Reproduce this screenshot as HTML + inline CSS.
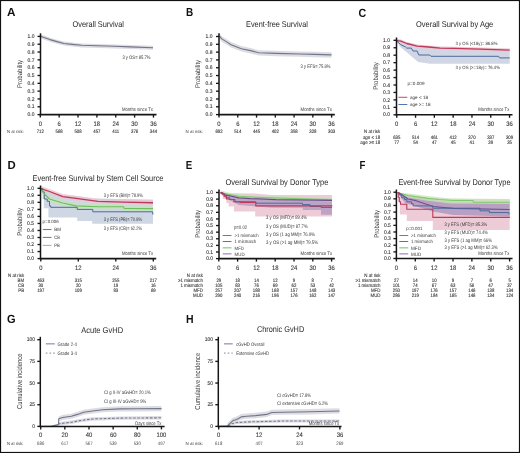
<!DOCTYPE html><html><head><meta charset="utf-8"><style>html,body{margin:0;padding:0;background:#fff;}svg{display:block;text-rendering:geometricPrecision;filter:blur(0.3px);}</style></head><body>
<svg width="520" height="453" viewBox="0 0 520 453" font-family='"Liberation Sans", sans-serif'>
<rect x="0" y="0" width="520" height="453" fill="#fff"/>
<text x="7.00" y="16.40" font-size="11.8" font-weight="bold" fill="#111" textLength="8.50" lengthAdjust="spacingAndGlyphs">A</text>
<text x="72.50" y="27.32" font-size="8.4" fill="#262626" textLength="51.50" lengthAdjust="spacingAndGlyphs">Overall Survival</text>
<path d="M40.60 34.30 L44.00 35.60 L50.00 37.70 L57.00 39.70 L64.00 41.60 L72.00 42.50 L81.80 43.40 L98.00 43.90 L115.00 44.40 L130.00 45.00 L153.00 45.80 L153.00 49.80 L130.00 49.00 L115.00 48.40 L98.00 47.90 L81.80 47.40 L72.00 46.50 L64.00 45.60 L57.00 43.70 L50.00 41.70 L44.00 39.60 L40.60 38.30Z" fill="#dcdce3" fill-opacity="1.0" stroke="none"/>
<path d="M40.60 36.20 L44.00 37.50 L50.00 39.60 L57.00 41.60 L64.00 43.50 L72.00 44.40 L81.80 45.30 L98.00 45.80 L115.00 46.30 L130.00 46.90 L153.00 47.70" fill="none" stroke="#727488" stroke-width="1.1" stroke-linejoin="round" />
<line x1="40.50" y1="33.30" x2="40.50" y2="115.30" stroke="#161616" stroke-width="1.5" />
<line x1="39.80" y1="114.60" x2="156.50" y2="114.60" stroke="#161616" stroke-width="1.55" />
<line x1="37.50" y1="36.40" x2="40.50" y2="36.40" stroke="#161616" stroke-width="1.35" />
<line x1="37.50" y1="44.22" x2="40.50" y2="44.22" stroke="#161616" stroke-width="1.35" />
<line x1="37.50" y1="52.04" x2="40.50" y2="52.04" stroke="#161616" stroke-width="1.35" />
<line x1="37.50" y1="59.86" x2="40.50" y2="59.86" stroke="#161616" stroke-width="1.35" />
<line x1="37.50" y1="67.68" x2="40.50" y2="67.68" stroke="#161616" stroke-width="1.35" />
<line x1="37.50" y1="75.50" x2="40.50" y2="75.50" stroke="#161616" stroke-width="1.35" />
<line x1="37.50" y1="83.32" x2="40.50" y2="83.32" stroke="#161616" stroke-width="1.35" />
<line x1="37.50" y1="91.14" x2="40.50" y2="91.14" stroke="#161616" stroke-width="1.35" />
<line x1="37.50" y1="98.96" x2="40.50" y2="98.96" stroke="#161616" stroke-width="1.35" />
<line x1="37.50" y1="106.78" x2="40.50" y2="106.78" stroke="#161616" stroke-width="1.35" />
<line x1="37.50" y1="114.60" x2="40.50" y2="114.60" stroke="#161616" stroke-width="1.35" />
<line x1="40.30" y1="114.60" x2="40.30" y2="117.60" stroke="#161616" stroke-width="1.35" />
<line x1="59.16" y1="114.60" x2="59.16" y2="117.60" stroke="#161616" stroke-width="1.35" />
<line x1="78.02" y1="114.60" x2="78.02" y2="117.60" stroke="#161616" stroke-width="1.35" />
<line x1="96.88" y1="114.60" x2="96.88" y2="117.60" stroke="#161616" stroke-width="1.35" />
<line x1="115.74" y1="114.60" x2="115.74" y2="117.60" stroke="#161616" stroke-width="1.35" />
<line x1="134.60" y1="114.60" x2="134.60" y2="117.60" stroke="#161616" stroke-width="1.35" />
<line x1="153.46" y1="114.60" x2="153.46" y2="117.60" stroke="#161616" stroke-width="1.35" />
<text x="34.50" y="38.04" font-size="5.4" text-anchor="end" fill="#383838" textLength="6.91" lengthAdjust="spacingAndGlyphs" stroke="#383838" stroke-width="0.12">1.0</text>
<text x="34.50" y="45.86" font-size="5.4" text-anchor="end" fill="#383838" textLength="6.91" lengthAdjust="spacingAndGlyphs" stroke="#383838" stroke-width="0.12">0.9</text>
<text x="34.50" y="53.68" font-size="5.4" text-anchor="end" fill="#383838" textLength="6.91" lengthAdjust="spacingAndGlyphs" stroke="#383838" stroke-width="0.12">0.8</text>
<text x="34.50" y="61.50" font-size="5.4" text-anchor="end" fill="#383838" textLength="6.91" lengthAdjust="spacingAndGlyphs" stroke="#383838" stroke-width="0.12">0.7</text>
<text x="34.50" y="69.32" font-size="5.4" text-anchor="end" fill="#383838" textLength="6.91" lengthAdjust="spacingAndGlyphs" stroke="#383838" stroke-width="0.12">0.6</text>
<text x="34.50" y="77.14" font-size="5.4" text-anchor="end" fill="#383838" textLength="6.91" lengthAdjust="spacingAndGlyphs" stroke="#383838" stroke-width="0.12">0.5</text>
<text x="34.50" y="84.96" font-size="5.4" text-anchor="end" fill="#383838" textLength="6.91" lengthAdjust="spacingAndGlyphs" stroke="#383838" stroke-width="0.12">0.4</text>
<text x="34.50" y="92.78" font-size="5.4" text-anchor="end" fill="#383838" textLength="6.91" lengthAdjust="spacingAndGlyphs" stroke="#383838" stroke-width="0.12">0.3</text>
<text x="34.50" y="100.60" font-size="5.4" text-anchor="end" fill="#383838" textLength="6.91" lengthAdjust="spacingAndGlyphs" stroke="#383838" stroke-width="0.12">0.2</text>
<text x="34.50" y="108.42" font-size="5.4" text-anchor="end" fill="#383838" textLength="6.91" lengthAdjust="spacingAndGlyphs" stroke="#383838" stroke-width="0.12">0.1</text>
<text x="34.50" y="116.24" font-size="5.4" text-anchor="end" fill="#383838" textLength="6.91" lengthAdjust="spacingAndGlyphs" stroke="#383838" stroke-width="0.12">0.0</text>
<text x="40.30" y="125.60" font-size="6.4" text-anchor="middle" fill="#383838" textLength="3.27" lengthAdjust="spacingAndGlyphs" stroke="#383838" stroke-width="0.1">0</text>
<text x="59.16" y="125.60" font-size="6.4" text-anchor="middle" fill="#383838" textLength="3.27" lengthAdjust="spacingAndGlyphs" stroke="#383838" stroke-width="0.1">6</text>
<text x="78.02" y="125.60" font-size="6.4" text-anchor="middle" fill="#383838" textLength="6.55" lengthAdjust="spacingAndGlyphs" stroke="#383838" stroke-width="0.1">12</text>
<text x="96.88" y="125.60" font-size="6.4" text-anchor="middle" fill="#383838" textLength="6.55" lengthAdjust="spacingAndGlyphs" stroke="#383838" stroke-width="0.1">18</text>
<text x="115.74" y="125.60" font-size="6.4" text-anchor="middle" fill="#383838" textLength="6.55" lengthAdjust="spacingAndGlyphs" stroke="#383838" stroke-width="0.1">24</text>
<text x="134.60" y="125.60" font-size="6.4" text-anchor="middle" fill="#383838" textLength="6.55" lengthAdjust="spacingAndGlyphs" stroke="#383838" stroke-width="0.1">30</text>
<text x="153.46" y="125.60" font-size="6.4" text-anchor="middle" fill="#383838" textLength="6.55" lengthAdjust="spacingAndGlyphs" stroke="#383838" stroke-width="0.1">36</text>
<text x="19.30" y="76.40" font-size="6.8" text-anchor="middle" fill="#383838" textLength="28.10" lengthAdjust="spacingAndGlyphs" transform="rotate(-90 19.30 73.95)">Probability</text>
<text x="122.40" y="58.80" font-size="5.0" fill="#383838" textLength="28.20" lengthAdjust="spacingAndGlyphs">3 y OS= 85.7%</text>
<text x="121.90" y="111.20" font-size="5.0" fill="#383838" textLength="31.10" lengthAdjust="spacingAndGlyphs">Months since Tx</text>
<text x="7.00" y="132.98" font-size="4.4" fill="#383838" textLength="16.80" lengthAdjust="spacingAndGlyphs">N at risk:</text>
<text x="40.30" y="133.16" font-size="4.9" text-anchor="middle" fill="#383838" textLength="7.19" lengthAdjust="spacingAndGlyphs" stroke="#383838" stroke-width="0.12">712</text>
<text x="59.16" y="133.16" font-size="4.9" text-anchor="middle" fill="#383838" textLength="7.19" lengthAdjust="spacingAndGlyphs" stroke="#383838" stroke-width="0.12">568</text>
<text x="78.02" y="133.16" font-size="4.9" text-anchor="middle" fill="#383838" textLength="7.19" lengthAdjust="spacingAndGlyphs" stroke="#383838" stroke-width="0.12">508</text>
<text x="96.88" y="133.16" font-size="4.9" text-anchor="middle" fill="#383838" textLength="7.19" lengthAdjust="spacingAndGlyphs" stroke="#383838" stroke-width="0.12">457</text>
<text x="115.74" y="133.16" font-size="4.9" text-anchor="middle" fill="#383838" textLength="6.87" lengthAdjust="spacingAndGlyphs" stroke="#383838" stroke-width="0.12">411</text>
<text x="134.60" y="133.16" font-size="4.9" text-anchor="middle" fill="#383838" textLength="7.19" lengthAdjust="spacingAndGlyphs" stroke="#383838" stroke-width="0.12">376</text>
<text x="153.46" y="133.16" font-size="4.9" text-anchor="middle" fill="#383838" textLength="7.19" lengthAdjust="spacingAndGlyphs" stroke="#383838" stroke-width="0.12">344</text>
<text x="185.90" y="16.40" font-size="11.8" font-weight="bold" fill="#111" textLength="7.20" lengthAdjust="spacingAndGlyphs">B</text>
<text x="246.00" y="26.92" font-size="8.4" fill="#262626" textLength="61.90" lengthAdjust="spacingAndGlyphs">Event-free Survival</text>
<path d="M219.50 33.60 L221.80 36.30 L227.50 39.80 L231.00 42.10 L241.40 46.10 L250.60 48.00 L258.70 50.20 L276.00 50.80 L300.00 51.40 L315.00 51.80 L331.50 52.30 L331.50 57.70 L315.00 57.20 L300.00 56.80 L276.00 56.20 L258.70 55.60 L250.60 53.40 L241.40 51.50 L231.00 47.50 L227.50 45.20 L221.80 41.70 L219.50 39.00Z" fill="#dcdce3" fill-opacity="1.0" stroke="none"/>
<path d="M219.50 36.20 L221.80 38.90 L227.50 42.40 L231.00 44.70 L241.40 48.70 L250.60 50.60 L258.70 52.80 L276.00 53.40 L300.00 54.00 L315.00 54.40 L331.50 54.90" fill="none" stroke="#727488" stroke-width="1.1" stroke-linejoin="round" />
<line x1="219.00" y1="33.30" x2="219.00" y2="115.30" stroke="#161616" stroke-width="1.5" />
<line x1="218.30" y1="114.60" x2="334.80" y2="114.60" stroke="#161616" stroke-width="1.55" />
<line x1="216.00" y1="36.50" x2="219.00" y2="36.50" stroke="#161616" stroke-width="1.35" />
<line x1="216.00" y1="44.31" x2="219.00" y2="44.31" stroke="#161616" stroke-width="1.35" />
<line x1="216.00" y1="52.12" x2="219.00" y2="52.12" stroke="#161616" stroke-width="1.35" />
<line x1="216.00" y1="59.93" x2="219.00" y2="59.93" stroke="#161616" stroke-width="1.35" />
<line x1="216.00" y1="67.74" x2="219.00" y2="67.74" stroke="#161616" stroke-width="1.35" />
<line x1="216.00" y1="75.55" x2="219.00" y2="75.55" stroke="#161616" stroke-width="1.35" />
<line x1="216.00" y1="83.36" x2="219.00" y2="83.36" stroke="#161616" stroke-width="1.35" />
<line x1="216.00" y1="91.17" x2="219.00" y2="91.17" stroke="#161616" stroke-width="1.35" />
<line x1="216.00" y1="98.98" x2="219.00" y2="98.98" stroke="#161616" stroke-width="1.35" />
<line x1="216.00" y1="106.79" x2="219.00" y2="106.79" stroke="#161616" stroke-width="1.35" />
<line x1="216.00" y1="114.60" x2="219.00" y2="114.60" stroke="#161616" stroke-width="1.35" />
<line x1="219.00" y1="114.60" x2="219.00" y2="117.60" stroke="#161616" stroke-width="1.35" />
<line x1="237.77" y1="114.60" x2="237.77" y2="117.60" stroke="#161616" stroke-width="1.35" />
<line x1="256.54" y1="114.60" x2="256.54" y2="117.60" stroke="#161616" stroke-width="1.35" />
<line x1="275.31" y1="114.60" x2="275.31" y2="117.60" stroke="#161616" stroke-width="1.35" />
<line x1="294.08" y1="114.60" x2="294.08" y2="117.60" stroke="#161616" stroke-width="1.35" />
<line x1="312.85" y1="114.60" x2="312.85" y2="117.60" stroke="#161616" stroke-width="1.35" />
<line x1="331.62" y1="114.60" x2="331.62" y2="117.60" stroke="#161616" stroke-width="1.35" />
<text x="212.50" y="38.14" font-size="5.4" text-anchor="end" fill="#383838" textLength="6.91" lengthAdjust="spacingAndGlyphs" stroke="#383838" stroke-width="0.12">1.0</text>
<text x="212.50" y="45.95" font-size="5.4" text-anchor="end" fill="#383838" textLength="6.91" lengthAdjust="spacingAndGlyphs" stroke="#383838" stroke-width="0.12">0.9</text>
<text x="212.50" y="53.76" font-size="5.4" text-anchor="end" fill="#383838" textLength="6.91" lengthAdjust="spacingAndGlyphs" stroke="#383838" stroke-width="0.12">0.8</text>
<text x="212.50" y="61.57" font-size="5.4" text-anchor="end" fill="#383838" textLength="6.91" lengthAdjust="spacingAndGlyphs" stroke="#383838" stroke-width="0.12">0.7</text>
<text x="212.50" y="69.38" font-size="5.4" text-anchor="end" fill="#383838" textLength="6.91" lengthAdjust="spacingAndGlyphs" stroke="#383838" stroke-width="0.12">0.6</text>
<text x="212.50" y="77.19" font-size="5.4" text-anchor="end" fill="#383838" textLength="6.91" lengthAdjust="spacingAndGlyphs" stroke="#383838" stroke-width="0.12">0.5</text>
<text x="212.50" y="85.00" font-size="5.4" text-anchor="end" fill="#383838" textLength="6.91" lengthAdjust="spacingAndGlyphs" stroke="#383838" stroke-width="0.12">0.4</text>
<text x="212.50" y="92.81" font-size="5.4" text-anchor="end" fill="#383838" textLength="6.91" lengthAdjust="spacingAndGlyphs" stroke="#383838" stroke-width="0.12">0.3</text>
<text x="212.50" y="100.62" font-size="5.4" text-anchor="end" fill="#383838" textLength="6.91" lengthAdjust="spacingAndGlyphs" stroke="#383838" stroke-width="0.12">0.2</text>
<text x="212.50" y="108.43" font-size="5.4" text-anchor="end" fill="#383838" textLength="6.91" lengthAdjust="spacingAndGlyphs" stroke="#383838" stroke-width="0.12">0.1</text>
<text x="212.50" y="116.24" font-size="5.4" text-anchor="end" fill="#383838" textLength="6.91" lengthAdjust="spacingAndGlyphs" stroke="#383838" stroke-width="0.12">0.0</text>
<text x="219.00" y="125.60" font-size="6.4" text-anchor="middle" fill="#383838" textLength="3.27" lengthAdjust="spacingAndGlyphs" stroke="#383838" stroke-width="0.1">0</text>
<text x="237.77" y="125.60" font-size="6.4" text-anchor="middle" fill="#383838" textLength="3.27" lengthAdjust="spacingAndGlyphs" stroke="#383838" stroke-width="0.1">6</text>
<text x="256.54" y="125.60" font-size="6.4" text-anchor="middle" fill="#383838" textLength="6.55" lengthAdjust="spacingAndGlyphs" stroke="#383838" stroke-width="0.1">12</text>
<text x="275.31" y="125.60" font-size="6.4" text-anchor="middle" fill="#383838" textLength="6.55" lengthAdjust="spacingAndGlyphs" stroke="#383838" stroke-width="0.1">18</text>
<text x="294.08" y="125.60" font-size="6.4" text-anchor="middle" fill="#383838" textLength="6.55" lengthAdjust="spacingAndGlyphs" stroke="#383838" stroke-width="0.1">24</text>
<text x="312.85" y="125.60" font-size="6.4" text-anchor="middle" fill="#383838" textLength="6.55" lengthAdjust="spacingAndGlyphs" stroke="#383838" stroke-width="0.1">30</text>
<text x="331.62" y="125.60" font-size="6.4" text-anchor="middle" fill="#383838" textLength="6.55" lengthAdjust="spacingAndGlyphs" stroke="#383838" stroke-width="0.1">36</text>
<text x="197.70" y="76.45" font-size="6.8" text-anchor="middle" fill="#383838" textLength="28.20" lengthAdjust="spacingAndGlyphs" transform="rotate(-90 197.70 74.00)">Probability</text>
<text x="300.60" y="68.00" font-size="5.0" fill="#383838" textLength="29.90" lengthAdjust="spacingAndGlyphs">3 y EFS= 75.8%</text>
<text x="300.60" y="111.20" font-size="5.0" fill="#383838" textLength="31.20" lengthAdjust="spacingAndGlyphs">Months since Tx</text>
<text x="185.60" y="132.78" font-size="4.4" fill="#383838" textLength="17.20" lengthAdjust="spacingAndGlyphs">N at risk:</text>
<text x="219.00" y="132.96" font-size="4.9" text-anchor="middle" fill="#383838" textLength="7.19" lengthAdjust="spacingAndGlyphs" stroke="#383838" stroke-width="0.12">692</text>
<text x="237.77" y="132.96" font-size="4.9" text-anchor="middle" fill="#383838" textLength="7.19" lengthAdjust="spacingAndGlyphs" stroke="#383838" stroke-width="0.12">514</text>
<text x="256.54" y="132.96" font-size="4.9" text-anchor="middle" fill="#383838" textLength="7.19" lengthAdjust="spacingAndGlyphs" stroke="#383838" stroke-width="0.12">445</text>
<text x="275.31" y="132.96" font-size="4.9" text-anchor="middle" fill="#383838" textLength="7.19" lengthAdjust="spacingAndGlyphs" stroke="#383838" stroke-width="0.12">402</text>
<text x="294.08" y="132.96" font-size="4.9" text-anchor="middle" fill="#383838" textLength="7.19" lengthAdjust="spacingAndGlyphs" stroke="#383838" stroke-width="0.12">358</text>
<text x="312.85" y="132.96" font-size="4.9" text-anchor="middle" fill="#383838" textLength="7.19" lengthAdjust="spacingAndGlyphs" stroke="#383838" stroke-width="0.12">328</text>
<text x="331.62" y="132.96" font-size="4.9" text-anchor="middle" fill="#383838" textLength="7.19" lengthAdjust="spacingAndGlyphs" stroke="#383838" stroke-width="0.12">303</text>
<text x="358.50" y="16.55" font-size="11.8" font-weight="bold" fill="#111" textLength="7.70" lengthAdjust="spacingAndGlyphs">C</text>
<text x="416.00" y="27.12" font-size="8.4" fill="#262626" textLength="77.20" lengthAdjust="spacingAndGlyphs">Overall Survival by Age</text>
<path d="M396.90 40.60 L406.70 44.50 L417.10 47.20 L428.60 48.00 L454.00 49.40 L509.70 50.80 L509.70 63.70 L429.80 63.70 L418.20 62.00 L412.50 57.30 L406.70 52.20 L400.90 47.50 L397.50 42.90 L396.90 40.60Z" fill="#d0d6e3" fill-opacity="1.0" stroke="none"/>
<path d="M396.90 39.00 L400.90 39.60 L406.70 41.90 L417.10 44.60 L428.60 45.40 L440.20 46.50 L454.00 46.80 L480.00 47.60 L509.70 48.60 L509.70 52.00 L480.00 51.00 L454.00 50.20 L440.20 49.90 L428.60 48.80 L417.10 48.00 L406.70 45.30 L400.90 43.00 L396.90 42.40Z" fill="#e9c9d3" fill-opacity="1.0" stroke="none"/>
<path d="M396.90 40.60 L398.60 42.90 L400.90 44.70 L405.50 47.00 L406.70 48.10 L411.30 48.10 L413.00 51.00 L417.10 51.00 L418.80 55.00 L429.80 55.00 L431.00 56.30 L498.60 56.30 L499.50 57.90 L509.70 57.90" fill="none" stroke="#4a6a9a" stroke-width="1.0" stroke-linejoin="round" />
<path d="M396.90 40.60 L400.90 41.20 L406.70 43.50 L417.10 46.20 L428.60 47.00 L440.20 48.10 L454.00 48.40 L480.00 49.20 L509.70 50.20" fill="none" stroke="#c0385a" stroke-width="1.3" stroke-linejoin="round" />
<line x1="396.50" y1="37.50" x2="396.50" y2="115.50" stroke="#161616" stroke-width="1.5" />
<line x1="395.80" y1="114.80" x2="512.50" y2="114.80" stroke="#161616" stroke-width="1.55" />
<line x1="393.50" y1="40.30" x2="396.50" y2="40.30" stroke="#161616" stroke-width="1.35" />
<line x1="393.50" y1="47.75" x2="396.50" y2="47.75" stroke="#161616" stroke-width="1.35" />
<line x1="393.50" y1="55.20" x2="396.50" y2="55.20" stroke="#161616" stroke-width="1.35" />
<line x1="393.50" y1="62.65" x2="396.50" y2="62.65" stroke="#161616" stroke-width="1.35" />
<line x1="393.50" y1="70.10" x2="396.50" y2="70.10" stroke="#161616" stroke-width="1.35" />
<line x1="393.50" y1="77.55" x2="396.50" y2="77.55" stroke="#161616" stroke-width="1.35" />
<line x1="393.50" y1="85.00" x2="396.50" y2="85.00" stroke="#161616" stroke-width="1.35" />
<line x1="393.50" y1="92.45" x2="396.50" y2="92.45" stroke="#161616" stroke-width="1.35" />
<line x1="393.50" y1="99.90" x2="396.50" y2="99.90" stroke="#161616" stroke-width="1.35" />
<line x1="393.50" y1="107.35" x2="396.50" y2="107.35" stroke="#161616" stroke-width="1.35" />
<line x1="393.50" y1="114.80" x2="396.50" y2="114.80" stroke="#161616" stroke-width="1.35" />
<line x1="396.75" y1="114.80" x2="396.75" y2="117.80" stroke="#161616" stroke-width="1.35" />
<line x1="415.55" y1="114.80" x2="415.55" y2="117.80" stroke="#161616" stroke-width="1.35" />
<line x1="434.35" y1="114.80" x2="434.35" y2="117.80" stroke="#161616" stroke-width="1.35" />
<line x1="453.15" y1="114.80" x2="453.15" y2="117.80" stroke="#161616" stroke-width="1.35" />
<line x1="471.95" y1="114.80" x2="471.95" y2="117.80" stroke="#161616" stroke-width="1.35" />
<line x1="490.75" y1="114.80" x2="490.75" y2="117.80" stroke="#161616" stroke-width="1.35" />
<line x1="509.55" y1="114.80" x2="509.55" y2="117.80" stroke="#161616" stroke-width="1.35" />
<text x="390.00" y="41.94" font-size="5.4" text-anchor="end" fill="#383838" textLength="6.91" lengthAdjust="spacingAndGlyphs" stroke="#383838" stroke-width="0.12">1.0</text>
<text x="390.00" y="49.39" font-size="5.4" text-anchor="end" fill="#383838" textLength="6.91" lengthAdjust="spacingAndGlyphs" stroke="#383838" stroke-width="0.12">0.9</text>
<text x="390.00" y="56.84" font-size="5.4" text-anchor="end" fill="#383838" textLength="6.91" lengthAdjust="spacingAndGlyphs" stroke="#383838" stroke-width="0.12">0.8</text>
<text x="390.00" y="64.29" font-size="5.4" text-anchor="end" fill="#383838" textLength="6.91" lengthAdjust="spacingAndGlyphs" stroke="#383838" stroke-width="0.12">0.7</text>
<text x="390.00" y="71.74" font-size="5.4" text-anchor="end" fill="#383838" textLength="6.91" lengthAdjust="spacingAndGlyphs" stroke="#383838" stroke-width="0.12">0.6</text>
<text x="390.00" y="79.19" font-size="5.4" text-anchor="end" fill="#383838" textLength="6.91" lengthAdjust="spacingAndGlyphs" stroke="#383838" stroke-width="0.12">0.5</text>
<text x="390.00" y="86.64" font-size="5.4" text-anchor="end" fill="#383838" textLength="6.91" lengthAdjust="spacingAndGlyphs" stroke="#383838" stroke-width="0.12">0.4</text>
<text x="390.00" y="94.09" font-size="5.4" text-anchor="end" fill="#383838" textLength="6.91" lengthAdjust="spacingAndGlyphs" stroke="#383838" stroke-width="0.12">0.3</text>
<text x="390.00" y="101.54" font-size="5.4" text-anchor="end" fill="#383838" textLength="6.91" lengthAdjust="spacingAndGlyphs" stroke="#383838" stroke-width="0.12">0.2</text>
<text x="390.00" y="108.99" font-size="5.4" text-anchor="end" fill="#383838" textLength="6.91" lengthAdjust="spacingAndGlyphs" stroke="#383838" stroke-width="0.12">0.1</text>
<text x="390.00" y="116.44" font-size="5.4" text-anchor="end" fill="#383838" textLength="6.91" lengthAdjust="spacingAndGlyphs" stroke="#383838" stroke-width="0.12">0.0</text>
<text x="396.75" y="125.60" font-size="6.4" text-anchor="middle" fill="#383838" textLength="3.27" lengthAdjust="spacingAndGlyphs" stroke="#383838" stroke-width="0.1">0</text>
<text x="415.55" y="125.60" font-size="6.4" text-anchor="middle" fill="#383838" textLength="3.27" lengthAdjust="spacingAndGlyphs" stroke="#383838" stroke-width="0.1">6</text>
<text x="434.35" y="125.60" font-size="6.4" text-anchor="middle" fill="#383838" textLength="6.55" lengthAdjust="spacingAndGlyphs" stroke="#383838" stroke-width="0.1">12</text>
<text x="453.15" y="125.60" font-size="6.4" text-anchor="middle" fill="#383838" textLength="6.55" lengthAdjust="spacingAndGlyphs" stroke="#383838" stroke-width="0.1">18</text>
<text x="471.95" y="125.60" font-size="6.4" text-anchor="middle" fill="#383838" textLength="6.55" lengthAdjust="spacingAndGlyphs" stroke="#383838" stroke-width="0.1">24</text>
<text x="490.75" y="125.60" font-size="6.4" text-anchor="middle" fill="#383838" textLength="6.55" lengthAdjust="spacingAndGlyphs" stroke="#383838" stroke-width="0.1">30</text>
<text x="509.55" y="125.60" font-size="6.4" text-anchor="middle" fill="#383838" textLength="6.55" lengthAdjust="spacingAndGlyphs" stroke="#383838" stroke-width="0.1">36</text>
<text x="375.70" y="78.45" font-size="6.8" text-anchor="middle" fill="#383838" textLength="27.60" lengthAdjust="spacingAndGlyphs" transform="rotate(-90 375.70 76.00)">Probability</text>
<text x="455.50" y="44.66" font-size="4.6" fill="#383838" textLength="42.00" lengthAdjust="spacingAndGlyphs">3 y OS (&lt;18y)= 86.8%</text>
<text x="455.50" y="69.16" font-size="4.6" fill="#383838" textLength="44.50" lengthAdjust="spacingAndGlyphs">3 y OS (&gt;=18y)= 76.4%</text>
<text x="407.50" y="85.41" font-size="4.6" fill="#383838" textLength="17.00" lengthAdjust="spacingAndGlyphs">p=0.009</text>
<line x1="398.40" y1="97.30" x2="407.30" y2="97.30" stroke="#c85474" stroke-width="1.1" />
<text x="410.00" y="98.66" font-size="4.6" fill="#383838" textLength="18.00" lengthAdjust="spacingAndGlyphs">age &lt; 18</text>
<line x1="398.40" y1="104.50" x2="407.30" y2="104.50" stroke="#5474b0" stroke-width="1.0" />
<text x="410.00" y="105.96" font-size="4.6" fill="#383838" textLength="20.50" lengthAdjust="spacingAndGlyphs">age &gt;= 18</text>
<text x="478.20" y="111.20" font-size="5.0" fill="#383838" textLength="31.20" lengthAdjust="spacingAndGlyphs">Months since Tx</text>
<text x="380.20" y="133.26" font-size="4.9" text-anchor="end" fill="#383838" textLength="16.17" lengthAdjust="spacingAndGlyphs" stroke="#383838" stroke-width="0.1">N at risk</text>
<text x="380.20" y="138.76" font-size="4.9" text-anchor="end" fill="#383838" textLength="17.29" lengthAdjust="spacingAndGlyphs" stroke="#383838" stroke-width="0.1">age &lt; 18</text>
<text x="380.20" y="143.66" font-size="4.9" text-anchor="end" fill="#383838" textLength="19.86" lengthAdjust="spacingAndGlyphs" stroke="#383838" stroke-width="0.1">age &gt;= 18</text>
<text x="396.75" y="138.76" font-size="4.9" text-anchor="middle" fill="#383838" textLength="7.19" lengthAdjust="spacingAndGlyphs" stroke="#383838" stroke-width="0.12">635</text>
<text x="415.55" y="138.76" font-size="4.9" text-anchor="middle" fill="#383838" textLength="7.19" lengthAdjust="spacingAndGlyphs" stroke="#383838" stroke-width="0.12">514</text>
<text x="434.35" y="138.76" font-size="4.9" text-anchor="middle" fill="#383838" textLength="7.19" lengthAdjust="spacingAndGlyphs" stroke="#383838" stroke-width="0.12">461</text>
<text x="453.15" y="138.76" font-size="4.9" text-anchor="middle" fill="#383838" textLength="7.19" lengthAdjust="spacingAndGlyphs" stroke="#383838" stroke-width="0.12">412</text>
<text x="471.95" y="138.76" font-size="4.9" text-anchor="middle" fill="#383838" textLength="7.19" lengthAdjust="spacingAndGlyphs" stroke="#383838" stroke-width="0.12">370</text>
<text x="490.75" y="138.76" font-size="4.9" text-anchor="middle" fill="#383838" textLength="7.19" lengthAdjust="spacingAndGlyphs" stroke="#383838" stroke-width="0.12">337</text>
<text x="509.55" y="138.76" font-size="4.9" text-anchor="middle" fill="#383838" textLength="7.19" lengthAdjust="spacingAndGlyphs" stroke="#383838" stroke-width="0.12">309</text>
<text x="396.75" y="143.66" font-size="4.9" text-anchor="middle" fill="#383838" textLength="4.80" lengthAdjust="spacingAndGlyphs" stroke="#383838" stroke-width="0.12">77</text>
<text x="415.55" y="143.66" font-size="4.9" text-anchor="middle" fill="#383838" textLength="4.80" lengthAdjust="spacingAndGlyphs" stroke="#383838" stroke-width="0.12">54</text>
<text x="434.35" y="143.66" font-size="4.9" text-anchor="middle" fill="#383838" textLength="4.80" lengthAdjust="spacingAndGlyphs" stroke="#383838" stroke-width="0.12">47</text>
<text x="453.15" y="143.66" font-size="4.9" text-anchor="middle" fill="#383838" textLength="4.80" lengthAdjust="spacingAndGlyphs" stroke="#383838" stroke-width="0.12">45</text>
<text x="471.95" y="143.66" font-size="4.9" text-anchor="middle" fill="#383838" textLength="4.80" lengthAdjust="spacingAndGlyphs" stroke="#383838" stroke-width="0.12">41</text>
<text x="490.75" y="143.66" font-size="4.9" text-anchor="middle" fill="#383838" textLength="4.80" lengthAdjust="spacingAndGlyphs" stroke="#383838" stroke-width="0.12">39</text>
<text x="509.55" y="143.66" font-size="4.9" text-anchor="middle" fill="#383838" textLength="4.80" lengthAdjust="spacingAndGlyphs" stroke="#383838" stroke-width="0.12">35</text>
<text x="7.60" y="168.80" font-size="11.8" font-weight="bold" fill="#111" textLength="8.20" lengthAdjust="spacingAndGlyphs">D</text>
<text x="32.60" y="180.72" font-size="8.4" fill="#262626" textLength="130.80" lengthAdjust="spacingAndGlyphs">Event-free Survival by Stem Cell Source</text>
<path d="M40.90 188.60 L62.80 195.50 L76.00 196.00 L92.20 198.40 L153.00 199.60 L153.00 224.00 L153.00 223.80 L92.20 223.80 L92.20 221.00 L77.20 221.00 L77.20 217.50 L48.40 217.50 L48.40 208.20 L43.80 208.20 L43.80 199.00 L42.60 199.00 L42.60 188.60 L40.90 188.60Z" fill="#d0d7e4" fill-opacity="1.0" stroke="none"/>
<path d="M40.90 185.40 L44.90 191.20 L49.50 195.80 L62.80 199.80 L76.00 202.70 L98.00 203.50 L123.50 203.60 L124.20 205.20 L153.00 205.40 L153.00 212.00 L124.20 211.80 L123.50 210.20 L98.00 210.10 L76.00 209.30 L62.80 206.40 L49.50 202.40 L44.90 197.80 L40.90 192.00Z" fill="#c6e2bd" fill-opacity="0.75" stroke="none"/>
<path d="M40.90 186.00 L49.50 188.90 L62.80 194.10 L76.00 195.80 L98.00 198.70 L123.00 199.50 L153.00 200.15 L153.00 204.75 L123.00 204.10 L98.00 203.30 L76.00 200.40 L62.80 198.70 L49.50 193.50 L40.90 190.60Z" fill="#e9c4cf" fill-opacity="0.8" stroke="none"/>
<path d="M40.90 188.60 L42.60 188.60 L42.60 192.00 L44.30 192.00 L44.30 199.00 L47.20 199.00 L47.20 201.30 L49.50 201.30 L49.50 205.90 L50.70 205.90 L50.70 207.30 L77.20 207.30 L77.20 209.40 L92.80 209.40 L92.80 211.80 L152.80 211.80 L152.80 214.60" fill="none" stroke="#4a6a9a" stroke-width="1.0" stroke-linejoin="round" />
<path d="M40.90 188.60 L44.90 194.40 L49.50 199.00 L62.80 203.00 L76.00 205.90 L98.00 206.70 L123.50 206.80 L124.20 208.40 L153.00 208.60" fill="none" stroke="#6cbf5a" stroke-width="1.1" stroke-linejoin="round" />
<path d="M40.90 188.60 L49.50 191.50 L62.80 196.70 L76.00 198.40 L98.00 201.30 L123.00 202.10 L153.00 202.75" fill="none" stroke="#c0385a" stroke-width="1.3" stroke-linejoin="round" />
<line x1="40.50" y1="185.50" x2="40.50" y2="259.30" stroke="#161616" stroke-width="1.5" />
<line x1="39.80" y1="258.60" x2="156.20" y2="258.60" stroke="#161616" stroke-width="1.55" />
<line x1="37.50" y1="188.30" x2="40.50" y2="188.30" stroke="#161616" stroke-width="1.35" />
<line x1="37.50" y1="195.33" x2="40.50" y2="195.33" stroke="#161616" stroke-width="1.35" />
<line x1="37.50" y1="202.36" x2="40.50" y2="202.36" stroke="#161616" stroke-width="1.35" />
<line x1="37.50" y1="209.39" x2="40.50" y2="209.39" stroke="#161616" stroke-width="1.35" />
<line x1="37.50" y1="216.42" x2="40.50" y2="216.42" stroke="#161616" stroke-width="1.35" />
<line x1="37.50" y1="223.45" x2="40.50" y2="223.45" stroke="#161616" stroke-width="1.35" />
<line x1="37.50" y1="230.48" x2="40.50" y2="230.48" stroke="#161616" stroke-width="1.35" />
<line x1="37.50" y1="237.51" x2="40.50" y2="237.51" stroke="#161616" stroke-width="1.35" />
<line x1="37.50" y1="244.54" x2="40.50" y2="244.54" stroke="#161616" stroke-width="1.35" />
<line x1="37.50" y1="251.57" x2="40.50" y2="251.57" stroke="#161616" stroke-width="1.35" />
<line x1="37.50" y1="258.60" x2="40.50" y2="258.60" stroke="#161616" stroke-width="1.35" />
<line x1="40.80" y1="258.60" x2="40.80" y2="261.60" stroke="#161616" stroke-width="1.35" />
<line x1="78.30" y1="258.60" x2="78.30" y2="261.60" stroke="#161616" stroke-width="1.35" />
<line x1="115.80" y1="258.60" x2="115.80" y2="261.60" stroke="#161616" stroke-width="1.35" />
<line x1="153.30" y1="258.60" x2="153.30" y2="261.60" stroke="#161616" stroke-width="1.35" />
<text x="34.00" y="189.94" font-size="5.4" text-anchor="end" fill="#383838" textLength="6.91" lengthAdjust="spacingAndGlyphs" stroke="#383838" stroke-width="0.12">1.0</text>
<text x="34.00" y="196.97" font-size="5.4" text-anchor="end" fill="#383838" textLength="6.91" lengthAdjust="spacingAndGlyphs" stroke="#383838" stroke-width="0.12">0.9</text>
<text x="34.00" y="204.00" font-size="5.4" text-anchor="end" fill="#383838" textLength="6.91" lengthAdjust="spacingAndGlyphs" stroke="#383838" stroke-width="0.12">0.8</text>
<text x="34.00" y="211.03" font-size="5.4" text-anchor="end" fill="#383838" textLength="6.91" lengthAdjust="spacingAndGlyphs" stroke="#383838" stroke-width="0.12">0.7</text>
<text x="34.00" y="218.06" font-size="5.4" text-anchor="end" fill="#383838" textLength="6.91" lengthAdjust="spacingAndGlyphs" stroke="#383838" stroke-width="0.12">0.6</text>
<text x="34.00" y="225.09" font-size="5.4" text-anchor="end" fill="#383838" textLength="6.91" lengthAdjust="spacingAndGlyphs" stroke="#383838" stroke-width="0.12">0.5</text>
<text x="34.00" y="232.12" font-size="5.4" text-anchor="end" fill="#383838" textLength="6.91" lengthAdjust="spacingAndGlyphs" stroke="#383838" stroke-width="0.12">0.4</text>
<text x="34.00" y="239.15" font-size="5.4" text-anchor="end" fill="#383838" textLength="6.91" lengthAdjust="spacingAndGlyphs" stroke="#383838" stroke-width="0.12">0.3</text>
<text x="34.00" y="246.18" font-size="5.4" text-anchor="end" fill="#383838" textLength="6.91" lengthAdjust="spacingAndGlyphs" stroke="#383838" stroke-width="0.12">0.2</text>
<text x="34.00" y="253.21" font-size="5.4" text-anchor="end" fill="#383838" textLength="6.91" lengthAdjust="spacingAndGlyphs" stroke="#383838" stroke-width="0.12">0.1</text>
<text x="34.00" y="260.24" font-size="5.4" text-anchor="end" fill="#383838" textLength="6.91" lengthAdjust="spacingAndGlyphs" stroke="#383838" stroke-width="0.12">0.0</text>
<text x="40.80" y="269.50" font-size="6.4" text-anchor="middle" fill="#383838" textLength="3.27" lengthAdjust="spacingAndGlyphs" stroke="#383838" stroke-width="0.1">0</text>
<text x="78.30" y="269.50" font-size="6.4" text-anchor="middle" fill="#383838" textLength="6.55" lengthAdjust="spacingAndGlyphs" stroke="#383838" stroke-width="0.1">12</text>
<text x="115.80" y="269.50" font-size="6.4" text-anchor="middle" fill="#383838" textLength="6.55" lengthAdjust="spacingAndGlyphs" stroke="#383838" stroke-width="0.1">24</text>
<text x="153.30" y="269.50" font-size="6.4" text-anchor="middle" fill="#383838" textLength="6.55" lengthAdjust="spacingAndGlyphs" stroke="#383838" stroke-width="0.1">36</text>
<text x="19.30" y="224.35" font-size="6.8" text-anchor="middle" fill="#383838" textLength="27.70" lengthAdjust="spacingAndGlyphs" transform="rotate(-90 19.30 221.90)">Probability</text>
<text x="103.75" y="197.30" font-size="5.0" fill="#383838" textLength="39.20" lengthAdjust="spacingAndGlyphs">3 y EFS (BM)= 78.9%</text>
<text x="103.75" y="220.80" font-size="5.0" fill="#383838" textLength="38.20" lengthAdjust="spacingAndGlyphs">3 y EFS (PB)= 70.8%</text>
<text x="103.75" y="229.55" font-size="5.0" fill="#383838" textLength="38.20" lengthAdjust="spacingAndGlyphs">3 y EFS (CB)= 62.2%</text>
<text x="42.60" y="223.16" font-size="4.6" fill="#383838" textLength="16.20" lengthAdjust="spacingAndGlyphs">p=0.006</text>
<line x1="42.80" y1="229.50" x2="51.50" y2="229.50" stroke="#c85474" stroke-width="1.1" />
<text x="54.30" y="231.23" font-size="4.8" fill="#383838" textLength="6.70" lengthAdjust="spacingAndGlyphs">BM</text>
<line x1="42.80" y1="237.40" x2="51.50" y2="237.40" stroke="#5474b0" stroke-width="1.0" />
<text x="54.30" y="239.13" font-size="4.8" fill="#383838" textLength="5.50" lengthAdjust="spacingAndGlyphs">CB</text>
<line x1="42.80" y1="245.40" x2="51.50" y2="245.40" stroke="#8ccc7c" stroke-width="1.1" />
<text x="54.30" y="247.13" font-size="4.8" fill="#383838" textLength="5.50" lengthAdjust="spacingAndGlyphs">PB</text>
<text x="121.90" y="255.20" font-size="5.0" fill="#383838" textLength="31.20" lengthAdjust="spacingAndGlyphs">Months since Tx</text>
<text x="24.20" y="277.06" font-size="4.9" text-anchor="end" fill="#383838" textLength="16.17" lengthAdjust="spacingAndGlyphs" stroke="#383838" stroke-width="0.1">N at risk</text>
<text x="24.20" y="282.16" font-size="4.9" text-anchor="end" fill="#383838" textLength="6.62" lengthAdjust="spacingAndGlyphs" stroke="#383838" stroke-width="0.1">BM</text>
<text x="40.80" y="282.16" font-size="4.9" text-anchor="middle" fill="#383838" textLength="7.19" lengthAdjust="spacingAndGlyphs" stroke="#383838" stroke-width="0.12">463</text>
<text x="78.30" y="282.16" font-size="4.9" text-anchor="middle" fill="#383838" textLength="7.19" lengthAdjust="spacingAndGlyphs" stroke="#383838" stroke-width="0.12">315</text>
<text x="115.80" y="282.16" font-size="4.9" text-anchor="middle" fill="#383838" textLength="7.19" lengthAdjust="spacingAndGlyphs" stroke="#383838" stroke-width="0.12">255</text>
<text x="153.30" y="282.16" font-size="4.9" text-anchor="middle" fill="#383838" textLength="7.19" lengthAdjust="spacingAndGlyphs" stroke="#383838" stroke-width="0.12">217</text>
<text x="24.20" y="287.16" font-size="4.9" text-anchor="end" fill="#383838" textLength="6.13" lengthAdjust="spacingAndGlyphs" stroke="#383838" stroke-width="0.1">CB</text>
<text x="40.80" y="287.16" font-size="4.9" text-anchor="middle" fill="#383838" textLength="4.80" lengthAdjust="spacingAndGlyphs" stroke="#383838" stroke-width="0.12">30</text>
<text x="78.30" y="287.16" font-size="4.9" text-anchor="middle" fill="#383838" textLength="4.80" lengthAdjust="spacingAndGlyphs" stroke="#383838" stroke-width="0.12">20</text>
<text x="115.80" y="287.16" font-size="4.9" text-anchor="middle" fill="#383838" textLength="4.80" lengthAdjust="spacingAndGlyphs" stroke="#383838" stroke-width="0.12">19</text>
<text x="153.30" y="287.16" font-size="4.9" text-anchor="middle" fill="#383838" textLength="4.80" lengthAdjust="spacingAndGlyphs" stroke="#383838" stroke-width="0.12">16</text>
<text x="24.20" y="292.16" font-size="4.9" text-anchor="end" fill="#383838" textLength="5.88" lengthAdjust="spacingAndGlyphs" stroke="#383838" stroke-width="0.1">PB</text>
<text x="40.80" y="292.16" font-size="4.9" text-anchor="middle" fill="#383838" textLength="7.19" lengthAdjust="spacingAndGlyphs" stroke="#383838" stroke-width="0.12">197</text>
<text x="78.30" y="292.16" font-size="4.9" text-anchor="middle" fill="#383838" textLength="7.19" lengthAdjust="spacingAndGlyphs" stroke="#383838" stroke-width="0.12">109</text>
<text x="115.80" y="292.16" font-size="4.9" text-anchor="middle" fill="#383838" textLength="4.80" lengthAdjust="spacingAndGlyphs" stroke="#383838" stroke-width="0.12">83</text>
<text x="153.30" y="292.16" font-size="4.9" text-anchor="middle" fill="#383838" textLength="4.80" lengthAdjust="spacingAndGlyphs" stroke="#383838" stroke-width="0.12">69</text>
<text x="185.80" y="168.80" font-size="11.8" font-weight="bold" fill="#111" textLength="6.50" lengthAdjust="spacingAndGlyphs">E</text>
<text x="225.50" y="184.52" font-size="8.4" fill="#262626" textLength="102.90" lengthAdjust="spacingAndGlyphs">Overall Survival by Donor Type</text>
<path d="M219.50 192.60 L233.00 193.20 L255.00 193.50 L272.00 195.10 L332.00 195.10 L332.00 216.90 L332.00 216.40 L255.20 216.40 L255.20 211.60 L233.90 211.60 L233.90 206.50 L228.70 206.50 L228.70 203.00 L226.40 203.00 L226.40 199.00 L222.90 199.00 L222.90 192.60 L219.50 192.60Z" fill="#ecc6d3" fill-opacity="0.9" stroke="none"/>
<path d="M219.50 192.60 L239.00 195.50 L276.00 197.00 L332.00 198.50 L332.00 214.80 L321.00 214.80 L321.00 210.00 L302.80 210.00 L302.80 207.70 L272.00 207.70 L239.00 205.00 L226.00 198.50 L219.50 192.60Z" fill="#9884b4" fill-opacity="0.55" stroke="none"/>
<path d="M220.60 190.60 L227.50 192.30 L239.00 194.30 L255.20 195.20 L276.00 196.00 L332.00 197.70 L332.00 201.50 L276.00 199.80 L255.20 199.00 L239.00 198.10 L227.50 196.10 L220.60 194.40Z" fill="#c4e4b8" fill-opacity="0.7" stroke="none"/>
<path d="M220.60 192.60 L227.50 194.30 L239.00 196.30 L255.20 197.20 L276.00 198.00 L332.00 199.70" fill="none" stroke="#80c86c" stroke-width="1.1" stroke-linejoin="round" />
<path d="M220.60 192.60 L225.20 194.90 L231.00 196.10 L239.00 197.80 L250.60 198.60 L276.00 199.70 L332.00 200.30" fill="none" stroke="#6e4e8e" stroke-width="1.2" stroke-linejoin="round" />
<path d="M220.60 192.60 L222.90 192.60 L222.90 193.80 L224.70 193.80 L224.70 195.50 L226.40 195.50 L226.40 197.80 L229.80 197.80 L229.80 199.50 L235.00 199.50 L235.00 201.80 L255.80 201.80 L255.80 203.20 L302.50 203.20 L302.50 204.60 L310.00 204.60 L310.00 206.50 L321.00 206.50 L321.00 207.40 L332.00 207.40 L332.00 207.40" fill="none" stroke="#4a6a9a" stroke-width="1.0" stroke-linejoin="round" />
<path d="M220.60 192.60 L222.30 192.60 L222.30 194.30 L224.10 194.30 L224.10 196.10 L226.40 196.10 L226.40 199.00 L229.80 199.00 L229.80 199.50 L233.90 199.50 L233.90 201.80 L240.20 201.80 L240.20 202.40 L255.80 202.40 L255.80 205.90 L332.00 205.90 L332.00 206.20" fill="none" stroke="#c0385a" stroke-width="1.1" stroke-linejoin="round" />
<line x1="219.00" y1="189.50" x2="219.00" y2="259.30" stroke="#161616" stroke-width="1.5" />
<line x1="218.30" y1="258.60" x2="334.80" y2="258.60" stroke="#161616" stroke-width="1.55" />
<line x1="216.00" y1="192.50" x2="219.00" y2="192.50" stroke="#161616" stroke-width="1.35" />
<line x1="216.00" y1="199.11" x2="219.00" y2="199.11" stroke="#161616" stroke-width="1.35" />
<line x1="216.00" y1="205.72" x2="219.00" y2="205.72" stroke="#161616" stroke-width="1.35" />
<line x1="216.00" y1="212.33" x2="219.00" y2="212.33" stroke="#161616" stroke-width="1.35" />
<line x1="216.00" y1="218.94" x2="219.00" y2="218.94" stroke="#161616" stroke-width="1.35" />
<line x1="216.00" y1="225.55" x2="219.00" y2="225.55" stroke="#161616" stroke-width="1.35" />
<line x1="216.00" y1="232.16" x2="219.00" y2="232.16" stroke="#161616" stroke-width="1.35" />
<line x1="216.00" y1="238.77" x2="219.00" y2="238.77" stroke="#161616" stroke-width="1.35" />
<line x1="216.00" y1="245.38" x2="219.00" y2="245.38" stroke="#161616" stroke-width="1.35" />
<line x1="216.00" y1="251.99" x2="219.00" y2="251.99" stroke="#161616" stroke-width="1.35" />
<line x1="216.00" y1="258.60" x2="219.00" y2="258.60" stroke="#161616" stroke-width="1.35" />
<line x1="218.80" y1="258.60" x2="218.80" y2="261.60" stroke="#161616" stroke-width="1.35" />
<line x1="237.60" y1="258.60" x2="237.60" y2="261.60" stroke="#161616" stroke-width="1.35" />
<line x1="256.40" y1="258.60" x2="256.40" y2="261.60" stroke="#161616" stroke-width="1.35" />
<line x1="275.20" y1="258.60" x2="275.20" y2="261.60" stroke="#161616" stroke-width="1.35" />
<line x1="294.00" y1="258.60" x2="294.00" y2="261.60" stroke="#161616" stroke-width="1.35" />
<line x1="312.80" y1="258.60" x2="312.80" y2="261.60" stroke="#161616" stroke-width="1.35" />
<line x1="331.60" y1="258.60" x2="331.60" y2="261.60" stroke="#161616" stroke-width="1.35" />
<text x="213.10" y="194.14" font-size="5.4" text-anchor="end" fill="#383838" textLength="6.91" lengthAdjust="spacingAndGlyphs" stroke="#383838" stroke-width="0.12">1.0</text>
<text x="213.10" y="200.75" font-size="5.4" text-anchor="end" fill="#383838" textLength="6.91" lengthAdjust="spacingAndGlyphs" stroke="#383838" stroke-width="0.12">0.9</text>
<text x="213.10" y="207.36" font-size="5.4" text-anchor="end" fill="#383838" textLength="6.91" lengthAdjust="spacingAndGlyphs" stroke="#383838" stroke-width="0.12">0.8</text>
<text x="213.10" y="213.97" font-size="5.4" text-anchor="end" fill="#383838" textLength="6.91" lengthAdjust="spacingAndGlyphs" stroke="#383838" stroke-width="0.12">0.7</text>
<text x="213.10" y="220.58" font-size="5.4" text-anchor="end" fill="#383838" textLength="6.91" lengthAdjust="spacingAndGlyphs" stroke="#383838" stroke-width="0.12">0.6</text>
<text x="213.10" y="227.19" font-size="5.4" text-anchor="end" fill="#383838" textLength="6.91" lengthAdjust="spacingAndGlyphs" stroke="#383838" stroke-width="0.12">0.5</text>
<text x="213.10" y="233.80" font-size="5.4" text-anchor="end" fill="#383838" textLength="6.91" lengthAdjust="spacingAndGlyphs" stroke="#383838" stroke-width="0.12">0.4</text>
<text x="213.10" y="240.41" font-size="5.4" text-anchor="end" fill="#383838" textLength="6.91" lengthAdjust="spacingAndGlyphs" stroke="#383838" stroke-width="0.12">0.3</text>
<text x="213.10" y="247.02" font-size="5.4" text-anchor="end" fill="#383838" textLength="6.91" lengthAdjust="spacingAndGlyphs" stroke="#383838" stroke-width="0.12">0.2</text>
<text x="213.10" y="253.63" font-size="5.4" text-anchor="end" fill="#383838" textLength="6.91" lengthAdjust="spacingAndGlyphs" stroke="#383838" stroke-width="0.12">0.1</text>
<text x="213.10" y="260.24" font-size="5.4" text-anchor="end" fill="#383838" textLength="6.91" lengthAdjust="spacingAndGlyphs" stroke="#383838" stroke-width="0.12">0.0</text>
<text x="218.80" y="269.50" font-size="6.4" text-anchor="middle" fill="#383838" textLength="3.27" lengthAdjust="spacingAndGlyphs" stroke="#383838" stroke-width="0.1">0</text>
<text x="237.60" y="269.50" font-size="6.4" text-anchor="middle" fill="#383838" textLength="3.27" lengthAdjust="spacingAndGlyphs" stroke="#383838" stroke-width="0.1">6</text>
<text x="256.40" y="269.50" font-size="6.4" text-anchor="middle" fill="#383838" textLength="6.55" lengthAdjust="spacingAndGlyphs" stroke="#383838" stroke-width="0.1">12</text>
<text x="275.20" y="269.50" font-size="6.4" text-anchor="middle" fill="#383838" textLength="6.55" lengthAdjust="spacingAndGlyphs" stroke="#383838" stroke-width="0.1">18</text>
<text x="294.00" y="269.50" font-size="6.4" text-anchor="middle" fill="#383838" textLength="6.55" lengthAdjust="spacingAndGlyphs" stroke="#383838" stroke-width="0.1">24</text>
<text x="312.80" y="269.50" font-size="6.4" text-anchor="middle" fill="#383838" textLength="6.55" lengthAdjust="spacingAndGlyphs" stroke="#383838" stroke-width="0.1">30</text>
<text x="331.60" y="269.50" font-size="6.4" text-anchor="middle" fill="#383838" textLength="6.55" lengthAdjust="spacingAndGlyphs" stroke="#383838" stroke-width="0.1">36</text>
<text x="197.80" y="226.25" font-size="6.8" text-anchor="middle" fill="#383838" textLength="27.80" lengthAdjust="spacingAndGlyphs" transform="rotate(-90 197.80 223.80)">Probability</text>
<text x="266.00" y="219.30" font-size="5.0" fill="#383838" textLength="41.00" lengthAdjust="spacingAndGlyphs">3 y OS (MFD)= 89.4%</text>
<text x="266.00" y="227.60" font-size="5.0" fill="#383838" textLength="41.60" lengthAdjust="spacingAndGlyphs">3 y OS (MUD)= 87.7%</text>
<text x="266.00" y="235.50" font-size="5.0" fill="#383838" textLength="49.00" lengthAdjust="spacingAndGlyphs">3 y OS (1 ag MM)= 76.9%</text>
<text x="266.00" y="244.00" font-size="5.0" fill="#383838" textLength="52.00" lengthAdjust="spacingAndGlyphs">3 y OS (&gt;1 ag MM)= 79.5%</text>
<text x="233.90" y="229.10" font-size="5.0" fill="#383838" textLength="13.40" lengthAdjust="spacingAndGlyphs">p=0.02</text>
<line x1="222.70" y1="235.50" x2="231.50" y2="235.50" stroke="#c85474" stroke-width="1.0" />
<text x="234.60" y="237.23" font-size="4.8" fill="#383838" textLength="23.90" lengthAdjust="spacingAndGlyphs">&gt;1 mismatch</text>
<line x1="222.70" y1="241.50" x2="231.50" y2="241.50" stroke="#5474b0" stroke-width="1.0" />
<text x="234.60" y="243.23" font-size="4.8" fill="#383838" textLength="21.60" lengthAdjust="spacingAndGlyphs">1 mismatch</text>
<line x1="222.70" y1="247.80" x2="231.50" y2="247.80" stroke="#98d488" stroke-width="1.4" />
<text x="234.60" y="249.53" font-size="4.8" fill="#383838" textLength="9.20" lengthAdjust="spacingAndGlyphs">MFD</text>
<line x1="222.70" y1="253.80" x2="231.50" y2="253.80" stroke="#b49ccc" stroke-width="1.5" />
<text x="234.60" y="255.53" font-size="4.8" fill="#383838" textLength="10.00" lengthAdjust="spacingAndGlyphs">MUD</text>
<text x="300.60" y="254.70" font-size="5.0" fill="#383838" textLength="31.60" lengthAdjust="spacingAndGlyphs">Months since Tx</text>
<text x="203.00" y="277.06" font-size="4.9" text-anchor="end" fill="#383838" textLength="16.17" lengthAdjust="spacingAndGlyphs" stroke="#383838" stroke-width="0.1">N at risk</text>
<text x="203.00" y="281.76" font-size="4.9" text-anchor="end" fill="#383838" textLength="25.12" lengthAdjust="spacingAndGlyphs" stroke="#383838" stroke-width="0.1">&gt;1 mismatch</text>
<text x="218.80" y="281.76" font-size="4.9" text-anchor="middle" fill="#383838" textLength="4.80" lengthAdjust="spacingAndGlyphs" stroke="#383838" stroke-width="0.12">29</text>
<text x="237.60" y="281.76" font-size="4.9" text-anchor="middle" fill="#383838" textLength="4.80" lengthAdjust="spacingAndGlyphs" stroke="#383838" stroke-width="0.12">18</text>
<text x="256.40" y="281.76" font-size="4.9" text-anchor="middle" fill="#383838" textLength="4.80" lengthAdjust="spacingAndGlyphs" stroke="#383838" stroke-width="0.12">14</text>
<text x="275.20" y="281.76" font-size="4.9" text-anchor="middle" fill="#383838" textLength="4.80" lengthAdjust="spacingAndGlyphs" stroke="#383838" stroke-width="0.12">12</text>
<text x="294.00" y="281.76" font-size="4.9" text-anchor="middle" fill="#383838" textLength="2.40" lengthAdjust="spacingAndGlyphs" stroke="#383838" stroke-width="0.12">9</text>
<text x="312.80" y="281.76" font-size="4.9" text-anchor="middle" fill="#383838" textLength="2.40" lengthAdjust="spacingAndGlyphs" stroke="#383838" stroke-width="0.12">8</text>
<text x="331.60" y="281.76" font-size="4.9" text-anchor="middle" fill="#383838" textLength="2.40" lengthAdjust="spacingAndGlyphs" stroke="#383838" stroke-width="0.12">7</text>
<text x="203.00" y="286.76" font-size="4.9" text-anchor="end" fill="#383838" textLength="22.55" lengthAdjust="spacingAndGlyphs" stroke="#383838" stroke-width="0.1">1 mismatch</text>
<text x="218.80" y="286.76" font-size="4.9" text-anchor="middle" fill="#383838" textLength="7.19" lengthAdjust="spacingAndGlyphs" stroke="#383838" stroke-width="0.12">105</text>
<text x="237.60" y="286.76" font-size="4.9" text-anchor="middle" fill="#383838" textLength="4.80" lengthAdjust="spacingAndGlyphs" stroke="#383838" stroke-width="0.12">83</text>
<text x="256.40" y="286.76" font-size="4.9" text-anchor="middle" fill="#383838" textLength="4.80" lengthAdjust="spacingAndGlyphs" stroke="#383838" stroke-width="0.12">76</text>
<text x="275.20" y="286.76" font-size="4.9" text-anchor="middle" fill="#383838" textLength="4.80" lengthAdjust="spacingAndGlyphs" stroke="#383838" stroke-width="0.12">69</text>
<text x="294.00" y="286.76" font-size="4.9" text-anchor="middle" fill="#383838" textLength="4.80" lengthAdjust="spacingAndGlyphs" stroke="#383838" stroke-width="0.12">62</text>
<text x="312.80" y="286.76" font-size="4.9" text-anchor="middle" fill="#383838" textLength="4.80" lengthAdjust="spacingAndGlyphs" stroke="#383838" stroke-width="0.12">53</text>
<text x="331.60" y="286.76" font-size="4.9" text-anchor="middle" fill="#383838" textLength="4.80" lengthAdjust="spacingAndGlyphs" stroke="#383838" stroke-width="0.12">42</text>
<text x="203.00" y="291.76" font-size="4.9" text-anchor="end" fill="#383838" textLength="9.55" lengthAdjust="spacingAndGlyphs" stroke="#383838" stroke-width="0.1">MFD</text>
<text x="218.80" y="291.76" font-size="4.9" text-anchor="middle" fill="#383838" textLength="7.19" lengthAdjust="spacingAndGlyphs" stroke="#383838" stroke-width="0.12">257</text>
<text x="237.60" y="291.76" font-size="4.9" text-anchor="middle" fill="#383838" textLength="7.19" lengthAdjust="spacingAndGlyphs" stroke="#383838" stroke-width="0.12">207</text>
<text x="256.40" y="291.76" font-size="4.9" text-anchor="middle" fill="#383838" textLength="7.19" lengthAdjust="spacingAndGlyphs" stroke="#383838" stroke-width="0.12">188</text>
<text x="275.20" y="291.76" font-size="4.9" text-anchor="middle" fill="#383838" textLength="7.19" lengthAdjust="spacingAndGlyphs" stroke="#383838" stroke-width="0.12">168</text>
<text x="294.00" y="291.76" font-size="4.9" text-anchor="middle" fill="#383838" textLength="7.19" lengthAdjust="spacingAndGlyphs" stroke="#383838" stroke-width="0.12">157</text>
<text x="312.80" y="291.76" font-size="4.9" text-anchor="middle" fill="#383838" textLength="7.19" lengthAdjust="spacingAndGlyphs" stroke="#383838" stroke-width="0.12">148</text>
<text x="331.60" y="291.76" font-size="4.9" text-anchor="middle" fill="#383838" textLength="7.19" lengthAdjust="spacingAndGlyphs" stroke="#383838" stroke-width="0.12">143</text>
<text x="203.00" y="296.76" font-size="4.9" text-anchor="end" fill="#383838" textLength="10.04" lengthAdjust="spacingAndGlyphs" stroke="#383838" stroke-width="0.1">MUD</text>
<text x="218.80" y="296.76" font-size="4.9" text-anchor="middle" fill="#383838" textLength="7.19" lengthAdjust="spacingAndGlyphs" stroke="#383838" stroke-width="0.12">290</text>
<text x="237.60" y="296.76" font-size="4.9" text-anchor="middle" fill="#383838" textLength="7.19" lengthAdjust="spacingAndGlyphs" stroke="#383838" stroke-width="0.12">240</text>
<text x="256.40" y="296.76" font-size="4.9" text-anchor="middle" fill="#383838" textLength="7.19" lengthAdjust="spacingAndGlyphs" stroke="#383838" stroke-width="0.12">216</text>
<text x="275.20" y="296.76" font-size="4.9" text-anchor="middle" fill="#383838" textLength="7.19" lengthAdjust="spacingAndGlyphs" stroke="#383838" stroke-width="0.12">196</text>
<text x="294.00" y="296.76" font-size="4.9" text-anchor="middle" fill="#383838" textLength="7.19" lengthAdjust="spacingAndGlyphs" stroke="#383838" stroke-width="0.12">176</text>
<text x="312.80" y="296.76" font-size="4.9" text-anchor="middle" fill="#383838" textLength="7.19" lengthAdjust="spacingAndGlyphs" stroke="#383838" stroke-width="0.12">162</text>
<text x="331.60" y="296.76" font-size="4.9" text-anchor="middle" fill="#383838" textLength="7.19" lengthAdjust="spacingAndGlyphs" stroke="#383838" stroke-width="0.12">147</text>
<text x="359.60" y="168.80" font-size="11.8" font-weight="bold" fill="#111" textLength="5.90" lengthAdjust="spacingAndGlyphs">F</text>
<text x="398.40" y="184.52" font-size="8.4" fill="#262626" textLength="112.10" lengthAdjust="spacingAndGlyphs">Event-free Survival by Donor Type</text>
<path d="M397.60 192.60 L408.00 195.00 L433.00 198.50 L509.70 199.50 L509.70 230.50 L509.70 230.10 L432.80 230.10 L432.80 220.90 L406.80 220.90 L406.80 214.50 L399.90 214.50 L399.90 201.80 L398.20 201.80 L398.20 192.60 L397.60 192.60Z" fill="#ecc6d3" fill-opacity="0.9" stroke="none"/>
<path d="M397.60 192.60 L408.00 196.00 L433.00 200.00 L450.00 201.50 L509.70 202.50 L509.70 216.50 L453.00 215.00 L433.00 211.50 L405.00 203.00 L397.60 192.60Z" fill="#9884b4" fill-opacity="0.62" stroke="none"/>
<path d="M397.60 192.60 L408.00 193.50 L427.60 196.00 L450.00 198.50 L509.70 199.00 L509.70 204.00 L450.00 203.50 L427.60 200.80 L408.00 197.50 L397.60 192.60Z" fill="#c4e4b8" fill-opacity="0.8" stroke="none"/>
<path d="M397.60 192.60 L408.00 195.50 L427.60 198.40 L439.20 199.50 L453.00 200.50 L473.00 200.50 L473.40 202.20 L509.70 202.20" fill="none" stroke="#80c86c" stroke-width="1.1" stroke-linejoin="round" />
<path d="M397.60 192.60 L402.20 194.90 L408.00 199.00 L416.00 200.70 L426.50 204.20 L433.40 206.50 L453.00 208.30 L509.70 209.50" fill="none" stroke="#6e4e8e" stroke-width="1.2" stroke-linejoin="round" />
<path d="M397.60 192.60 L399.30 192.60 L399.30 194.90 L401.70 194.90 L401.70 197.80 L404.50 197.80 L404.50 199.50 L406.80 199.50 L406.80 201.80 L411.50 201.80 L411.50 203.60 L413.20 203.60 L413.20 205.90 L432.80 205.90 L432.80 208.20 L480.00 208.20 L480.00 210.80 L489.40 210.80 L489.40 212.60 L509.00 212.60 L509.00 214.50" fill="none" stroke="#4a6a9a" stroke-width="1.0" stroke-linejoin="round" />
<path d="M397.60 192.60 L398.20 192.60 L398.20 197.20 L399.30 197.20 L399.30 201.80 L400.50 201.80 L400.50 204.20 L406.80 204.20 L406.80 209.30 L432.80 209.30 L432.80 217.40 L509.70 217.40 L509.70 217.50" fill="none" stroke="#c0385a" stroke-width="1.1" stroke-linejoin="round" />
<line x1="396.40" y1="189.50" x2="396.40" y2="259.20" stroke="#161616" stroke-width="1.5" />
<line x1="395.70" y1="258.50" x2="512.50" y2="258.50" stroke="#161616" stroke-width="1.55" />
<line x1="393.40" y1="192.20" x2="396.40" y2="192.20" stroke="#161616" stroke-width="1.35" />
<line x1="393.40" y1="198.83" x2="396.40" y2="198.83" stroke="#161616" stroke-width="1.35" />
<line x1="393.40" y1="205.46" x2="396.40" y2="205.46" stroke="#161616" stroke-width="1.35" />
<line x1="393.40" y1="212.09" x2="396.40" y2="212.09" stroke="#161616" stroke-width="1.35" />
<line x1="393.40" y1="218.72" x2="396.40" y2="218.72" stroke="#161616" stroke-width="1.35" />
<line x1="393.40" y1="225.35" x2="396.40" y2="225.35" stroke="#161616" stroke-width="1.35" />
<line x1="393.40" y1="231.98" x2="396.40" y2="231.98" stroke="#161616" stroke-width="1.35" />
<line x1="393.40" y1="238.61" x2="396.40" y2="238.61" stroke="#161616" stroke-width="1.35" />
<line x1="393.40" y1="245.24" x2="396.40" y2="245.24" stroke="#161616" stroke-width="1.35" />
<line x1="393.40" y1="251.87" x2="396.40" y2="251.87" stroke="#161616" stroke-width="1.35" />
<line x1="393.40" y1="258.50" x2="396.40" y2="258.50" stroke="#161616" stroke-width="1.35" />
<line x1="396.40" y1="258.50" x2="396.40" y2="261.50" stroke="#161616" stroke-width="1.35" />
<line x1="415.27" y1="258.50" x2="415.27" y2="261.50" stroke="#161616" stroke-width="1.35" />
<line x1="434.14" y1="258.50" x2="434.14" y2="261.50" stroke="#161616" stroke-width="1.35" />
<line x1="453.01" y1="258.50" x2="453.01" y2="261.50" stroke="#161616" stroke-width="1.35" />
<line x1="471.88" y1="258.50" x2="471.88" y2="261.50" stroke="#161616" stroke-width="1.35" />
<line x1="490.75" y1="258.50" x2="490.75" y2="261.50" stroke="#161616" stroke-width="1.35" />
<line x1="509.62" y1="258.50" x2="509.62" y2="261.50" stroke="#161616" stroke-width="1.35" />
<text x="390.80" y="193.84" font-size="5.4" text-anchor="end" fill="#383838" textLength="6.91" lengthAdjust="spacingAndGlyphs" stroke="#383838" stroke-width="0.12">1.0</text>
<text x="390.80" y="200.47" font-size="5.4" text-anchor="end" fill="#383838" textLength="6.91" lengthAdjust="spacingAndGlyphs" stroke="#383838" stroke-width="0.12">0.9</text>
<text x="390.80" y="207.10" font-size="5.4" text-anchor="end" fill="#383838" textLength="6.91" lengthAdjust="spacingAndGlyphs" stroke="#383838" stroke-width="0.12">0.8</text>
<text x="390.80" y="213.73" font-size="5.4" text-anchor="end" fill="#383838" textLength="6.91" lengthAdjust="spacingAndGlyphs" stroke="#383838" stroke-width="0.12">0.7</text>
<text x="390.80" y="220.36" font-size="5.4" text-anchor="end" fill="#383838" textLength="6.91" lengthAdjust="spacingAndGlyphs" stroke="#383838" stroke-width="0.12">0.6</text>
<text x="390.80" y="226.99" font-size="5.4" text-anchor="end" fill="#383838" textLength="6.91" lengthAdjust="spacingAndGlyphs" stroke="#383838" stroke-width="0.12">0.5</text>
<text x="390.80" y="233.62" font-size="5.4" text-anchor="end" fill="#383838" textLength="6.91" lengthAdjust="spacingAndGlyphs" stroke="#383838" stroke-width="0.12">0.4</text>
<text x="390.80" y="240.25" font-size="5.4" text-anchor="end" fill="#383838" textLength="6.91" lengthAdjust="spacingAndGlyphs" stroke="#383838" stroke-width="0.12">0.3</text>
<text x="390.80" y="246.88" font-size="5.4" text-anchor="end" fill="#383838" textLength="6.91" lengthAdjust="spacingAndGlyphs" stroke="#383838" stroke-width="0.12">0.2</text>
<text x="390.80" y="253.51" font-size="5.4" text-anchor="end" fill="#383838" textLength="6.91" lengthAdjust="spacingAndGlyphs" stroke="#383838" stroke-width="0.12">0.1</text>
<text x="390.80" y="260.14" font-size="5.4" text-anchor="end" fill="#383838" textLength="6.91" lengthAdjust="spacingAndGlyphs" stroke="#383838" stroke-width="0.12">0.0</text>
<text x="396.40" y="269.50" font-size="6.4" text-anchor="middle" fill="#383838" textLength="3.27" lengthAdjust="spacingAndGlyphs" stroke="#383838" stroke-width="0.1">0</text>
<text x="415.27" y="269.50" font-size="6.4" text-anchor="middle" fill="#383838" textLength="3.27" lengthAdjust="spacingAndGlyphs" stroke="#383838" stroke-width="0.1">6</text>
<text x="434.14" y="269.50" font-size="6.4" text-anchor="middle" fill="#383838" textLength="6.55" lengthAdjust="spacingAndGlyphs" stroke="#383838" stroke-width="0.1">12</text>
<text x="453.01" y="269.50" font-size="6.4" text-anchor="middle" fill="#383838" textLength="6.55" lengthAdjust="spacingAndGlyphs" stroke="#383838" stroke-width="0.1">18</text>
<text x="471.88" y="269.50" font-size="6.4" text-anchor="middle" fill="#383838" textLength="6.55" lengthAdjust="spacingAndGlyphs" stroke="#383838" stroke-width="0.1">24</text>
<text x="490.75" y="269.50" font-size="6.4" text-anchor="middle" fill="#383838" textLength="6.55" lengthAdjust="spacingAndGlyphs" stroke="#383838" stroke-width="0.1">30</text>
<text x="509.62" y="269.50" font-size="6.4" text-anchor="middle" fill="#383838" textLength="6.55" lengthAdjust="spacingAndGlyphs" stroke="#383838" stroke-width="0.1">36</text>
<text x="376.30" y="226.25" font-size="6.8" text-anchor="middle" fill="#383838" textLength="27.80" lengthAdjust="spacingAndGlyphs" transform="rotate(-90 376.30 223.80)">Probability</text>
<text x="444.40" y="226.10" font-size="5.0" fill="#383838" textLength="42.90" lengthAdjust="spacingAndGlyphs">3 y EFS (MFD)= 85.3%</text>
<text x="444.40" y="233.90" font-size="5.0" fill="#383838" textLength="43.50" lengthAdjust="spacingAndGlyphs">3 y EFS (MUD)= 74.4%</text>
<text x="444.40" y="241.50" font-size="5.0" fill="#383838" textLength="47.50" lengthAdjust="spacingAndGlyphs">3 y EFS (1 ag MM)= 66%</text>
<text x="444.40" y="249.20" font-size="5.0" fill="#383838" textLength="53.30" lengthAdjust="spacingAndGlyphs">3 y EFS (&gt;1 ag MM)= 62.3%</text>
<text x="406.30" y="229.66" font-size="4.6" fill="#383838" textLength="16.20" lengthAdjust="spacingAndGlyphs">p=0.001</text>
<line x1="399.30" y1="235.50" x2="408.20" y2="235.50" stroke="#c85474" stroke-width="1.0" />
<text x="411.00" y="237.23" font-size="4.8" fill="#383838" textLength="25.00" lengthAdjust="spacingAndGlyphs">&gt;1 mismatch</text>
<line x1="399.30" y1="241.50" x2="408.20" y2="241.50" stroke="#5474b0" stroke-width="1.0" />
<text x="411.00" y="243.23" font-size="4.8" fill="#383838" textLength="22.00" lengthAdjust="spacingAndGlyphs">1 mismatch</text>
<line x1="399.30" y1="247.80" x2="408.20" y2="247.80" stroke="#98d488" stroke-width="1.4" />
<text x="411.00" y="249.53" font-size="4.8" fill="#383838" textLength="10.00" lengthAdjust="spacingAndGlyphs">MFD</text>
<line x1="399.30" y1="253.80" x2="408.20" y2="253.80" stroke="#b49ccc" stroke-width="1.5" />
<text x="411.00" y="255.53" font-size="4.8" fill="#383838" textLength="10.40" lengthAdjust="spacingAndGlyphs">MUD</text>
<text x="478.20" y="254.70" font-size="5.0" fill="#383838" textLength="31.20" lengthAdjust="spacingAndGlyphs">Months since Tx</text>
<text x="380.50" y="277.06" font-size="4.9" text-anchor="end" fill="#383838" textLength="16.17" lengthAdjust="spacingAndGlyphs" stroke="#383838" stroke-width="0.1">N at risk</text>
<text x="380.50" y="281.76" font-size="4.9" text-anchor="end" fill="#383838" textLength="25.12" lengthAdjust="spacingAndGlyphs" stroke="#383838" stroke-width="0.1">&gt;1 mismatch</text>
<text x="396.40" y="281.76" font-size="4.9" text-anchor="middle" fill="#383838" textLength="4.80" lengthAdjust="spacingAndGlyphs" stroke="#383838" stroke-width="0.12">27</text>
<text x="415.27" y="281.76" font-size="4.9" text-anchor="middle" fill="#383838" textLength="4.80" lengthAdjust="spacingAndGlyphs" stroke="#383838" stroke-width="0.12">14</text>
<text x="434.14" y="281.76" font-size="4.9" text-anchor="middle" fill="#383838" textLength="4.80" lengthAdjust="spacingAndGlyphs" stroke="#383838" stroke-width="0.12">10</text>
<text x="453.01" y="281.76" font-size="4.9" text-anchor="middle" fill="#383838" textLength="2.40" lengthAdjust="spacingAndGlyphs" stroke="#383838" stroke-width="0.12">9</text>
<text x="471.88" y="281.76" font-size="4.9" text-anchor="middle" fill="#383838" textLength="2.40" lengthAdjust="spacingAndGlyphs" stroke="#383838" stroke-width="0.12">7</text>
<text x="490.75" y="281.76" font-size="4.9" text-anchor="middle" fill="#383838" textLength="2.40" lengthAdjust="spacingAndGlyphs" stroke="#383838" stroke-width="0.12">6</text>
<text x="509.62" y="281.76" font-size="4.9" text-anchor="middle" fill="#383838" textLength="2.40" lengthAdjust="spacingAndGlyphs" stroke="#383838" stroke-width="0.12">5</text>
<text x="380.50" y="286.76" font-size="4.9" text-anchor="end" fill="#383838" textLength="22.55" lengthAdjust="spacingAndGlyphs" stroke="#383838" stroke-width="0.1">1 mismatch</text>
<text x="396.40" y="286.76" font-size="4.9" text-anchor="middle" fill="#383838" textLength="7.19" lengthAdjust="spacingAndGlyphs" stroke="#383838" stroke-width="0.12">101</text>
<text x="415.27" y="286.76" font-size="4.9" text-anchor="middle" fill="#383838" textLength="4.80" lengthAdjust="spacingAndGlyphs" stroke="#383838" stroke-width="0.12">74</text>
<text x="434.14" y="286.76" font-size="4.9" text-anchor="middle" fill="#383838" textLength="4.80" lengthAdjust="spacingAndGlyphs" stroke="#383838" stroke-width="0.12">67</text>
<text x="453.01" y="286.76" font-size="4.9" text-anchor="middle" fill="#383838" textLength="4.80" lengthAdjust="spacingAndGlyphs" stroke="#383838" stroke-width="0.12">63</text>
<text x="471.88" y="286.76" font-size="4.9" text-anchor="middle" fill="#383838" textLength="4.80" lengthAdjust="spacingAndGlyphs" stroke="#383838" stroke-width="0.12">56</text>
<text x="490.75" y="286.76" font-size="4.9" text-anchor="middle" fill="#383838" textLength="4.80" lengthAdjust="spacingAndGlyphs" stroke="#383838" stroke-width="0.12">47</text>
<text x="509.62" y="286.76" font-size="4.9" text-anchor="middle" fill="#383838" textLength="4.80" lengthAdjust="spacingAndGlyphs" stroke="#383838" stroke-width="0.12">37</text>
<text x="380.50" y="291.76" font-size="4.9" text-anchor="end" fill="#383838" textLength="9.55" lengthAdjust="spacingAndGlyphs" stroke="#383838" stroke-width="0.1">MFD</text>
<text x="396.40" y="291.76" font-size="4.9" text-anchor="middle" fill="#383838" textLength="7.19" lengthAdjust="spacingAndGlyphs" stroke="#383838" stroke-width="0.12">250</text>
<text x="415.27" y="291.76" font-size="4.9" text-anchor="middle" fill="#383838" textLength="7.19" lengthAdjust="spacingAndGlyphs" stroke="#383838" stroke-width="0.12">197</text>
<text x="434.14" y="291.76" font-size="4.9" text-anchor="middle" fill="#383838" textLength="7.19" lengthAdjust="spacingAndGlyphs" stroke="#383838" stroke-width="0.12">176</text>
<text x="453.01" y="291.76" font-size="4.9" text-anchor="middle" fill="#383838" textLength="7.19" lengthAdjust="spacingAndGlyphs" stroke="#383838" stroke-width="0.12">157</text>
<text x="471.88" y="291.76" font-size="4.9" text-anchor="middle" fill="#383838" textLength="7.19" lengthAdjust="spacingAndGlyphs" stroke="#383838" stroke-width="0.12">146</text>
<text x="490.75" y="291.76" font-size="4.9" text-anchor="middle" fill="#383838" textLength="7.19" lengthAdjust="spacingAndGlyphs" stroke="#383838" stroke-width="0.12">138</text>
<text x="509.62" y="291.76" font-size="4.9" text-anchor="middle" fill="#383838" textLength="7.19" lengthAdjust="spacingAndGlyphs" stroke="#383838" stroke-width="0.12">134</text>
<text x="380.50" y="296.76" font-size="4.9" text-anchor="end" fill="#383838" textLength="10.04" lengthAdjust="spacingAndGlyphs" stroke="#383838" stroke-width="0.1">MUD</text>
<text x="396.40" y="296.76" font-size="4.9" text-anchor="middle" fill="#383838" textLength="7.19" lengthAdjust="spacingAndGlyphs" stroke="#383838" stroke-width="0.12">286</text>
<text x="415.27" y="296.76" font-size="4.9" text-anchor="middle" fill="#383838" textLength="7.19" lengthAdjust="spacingAndGlyphs" stroke="#383838" stroke-width="0.12">219</text>
<text x="434.14" y="296.76" font-size="4.9" text-anchor="middle" fill="#383838" textLength="7.19" lengthAdjust="spacingAndGlyphs" stroke="#383838" stroke-width="0.12">184</text>
<text x="453.01" y="296.76" font-size="4.9" text-anchor="middle" fill="#383838" textLength="7.19" lengthAdjust="spacingAndGlyphs" stroke="#383838" stroke-width="0.12">165</text>
<text x="471.88" y="296.76" font-size="4.9" text-anchor="middle" fill="#383838" textLength="7.19" lengthAdjust="spacingAndGlyphs" stroke="#383838" stroke-width="0.12">146</text>
<text x="490.75" y="296.76" font-size="4.9" text-anchor="middle" fill="#383838" textLength="7.19" lengthAdjust="spacingAndGlyphs" stroke="#383838" stroke-width="0.12">134</text>
<text x="509.62" y="296.76" font-size="4.9" text-anchor="middle" fill="#383838" textLength="7.19" lengthAdjust="spacingAndGlyphs" stroke="#383838" stroke-width="0.12">124</text>
<text x="7.00" y="323.00" font-size="11.8" font-weight="bold" fill="#111" textLength="8.60" lengthAdjust="spacingAndGlyphs">G</text>
<text x="81.30" y="332.62" font-size="8.4" fill="#262626" textLength="41.80" lengthAdjust="spacingAndGlyphs">Acute GvHD</text>
<path d="M58.75 416.15 L62.50 414.90 L71.25 413.65 L77.50 411.80 L83.75 409.65 L92.50 408.40 L102.50 407.15 L120.00 406.30 L137.00 406.20 L161.50 406.00 L161.50 411.20 L137.00 411.40 L120.00 411.50 L102.50 412.35 L92.50 413.60 L83.75 414.85 L77.50 417.00 L71.25 418.85 L62.50 420.10 L58.75 421.35Z" fill="#dcdce3" fill-opacity="1.0" stroke="none"/>
<path d="M58.75 422.90 L58.75 422.05 L71.25 420.55 L80.00 418.90 L86.25 418.05 L92.50 417.30 L120.00 416.40 L161.50 416.10 L161.50 419.50 L120.00 419.80 L92.50 420.70 L86.25 421.45 L80.00 422.30 L71.25 423.95 L58.75 425.45 L58.75 426.30Z" fill="#dcdce3" fill-opacity="1.0" stroke="none"/>
<path d="M48.00 426.30 L58.75 423.50 L58.75 426.30Z" fill="#e4e4ea" fill-opacity="1.0" stroke="none"/>
<path d="M40.60 426.30 L51.00 426.30 L58.50 424.60 L58.75 418.75 L62.50 417.50 L71.25 416.25 L77.50 414.40 L83.75 412.25 L92.50 411.00 L102.50 409.75 L120.00 408.90 L137.00 408.80 L161.50 408.60" fill="none" stroke="#727488" stroke-width="1.1" stroke-linejoin="round" />
<path d="M58.75 424.60 L58.75 423.75 L71.25 422.25 L80.00 420.60 L86.25 419.75 L92.50 419.00 L120.00 418.10 L161.50 417.80" fill="none" stroke="#777b94" stroke-width="1.1" stroke-linejoin="round" stroke-dasharray="2.6 1.6"/>
<line x1="40.30" y1="336.80" x2="40.30" y2="427.10" stroke="#161616" stroke-width="1.5" />
<line x1="39.60" y1="426.40" x2="164.60" y2="426.40" stroke="#161616" stroke-width="1.55" />
<line x1="37.30" y1="339.70" x2="40.30" y2="339.70" stroke="#161616" stroke-width="1.35" />
<line x1="37.30" y1="361.38" x2="40.30" y2="361.38" stroke="#161616" stroke-width="1.35" />
<line x1="37.30" y1="383.05" x2="40.30" y2="383.05" stroke="#161616" stroke-width="1.35" />
<line x1="37.30" y1="404.72" x2="40.30" y2="404.72" stroke="#161616" stroke-width="1.35" />
<line x1="37.30" y1="426.40" x2="40.30" y2="426.40" stroke="#161616" stroke-width="1.35" />
<line x1="40.70" y1="426.40" x2="40.70" y2="429.40" stroke="#161616" stroke-width="1.35" />
<line x1="64.85" y1="426.40" x2="64.85" y2="429.40" stroke="#161616" stroke-width="1.35" />
<line x1="89.00" y1="426.40" x2="89.00" y2="429.40" stroke="#161616" stroke-width="1.35" />
<line x1="113.15" y1="426.40" x2="113.15" y2="429.40" stroke="#161616" stroke-width="1.35" />
<line x1="137.30" y1="426.40" x2="137.30" y2="429.40" stroke="#161616" stroke-width="1.35" />
<line x1="161.45" y1="426.40" x2="161.45" y2="429.40" stroke="#161616" stroke-width="1.35" />
<text x="35.00" y="341.34" font-size="5.4" text-anchor="end" fill="#383838" textLength="8.29" lengthAdjust="spacingAndGlyphs" stroke="#383838" stroke-width="0.12">100</text>
<text x="35.00" y="363.02" font-size="5.4" text-anchor="end" fill="#383838" textLength="5.53" lengthAdjust="spacingAndGlyphs" stroke="#383838" stroke-width="0.12">75</text>
<text x="35.00" y="384.69" font-size="5.4" text-anchor="end" fill="#383838" textLength="5.53" lengthAdjust="spacingAndGlyphs" stroke="#383838" stroke-width="0.12">50</text>
<text x="35.00" y="406.37" font-size="5.4" text-anchor="end" fill="#383838" textLength="5.53" lengthAdjust="spacingAndGlyphs" stroke="#383838" stroke-width="0.12">25</text>
<text x="35.00" y="428.04" font-size="5.4" text-anchor="end" fill="#383838" textLength="2.76" lengthAdjust="spacingAndGlyphs" stroke="#383838" stroke-width="0.12">0</text>
<text x="40.70" y="437.30" font-size="6.4" text-anchor="middle" fill="#383838" textLength="3.27" lengthAdjust="spacingAndGlyphs" stroke="#383838" stroke-width="0.1">0</text>
<text x="64.85" y="437.30" font-size="6.4" text-anchor="middle" fill="#383838" textLength="6.55" lengthAdjust="spacingAndGlyphs" stroke="#383838" stroke-width="0.1">20</text>
<text x="89.00" y="437.30" font-size="6.4" text-anchor="middle" fill="#383838" textLength="6.55" lengthAdjust="spacingAndGlyphs" stroke="#383838" stroke-width="0.1">40</text>
<text x="113.15" y="437.30" font-size="6.4" text-anchor="middle" fill="#383838" textLength="6.55" lengthAdjust="spacingAndGlyphs" stroke="#383838" stroke-width="0.1">60</text>
<text x="137.30" y="437.30" font-size="6.4" text-anchor="middle" fill="#383838" textLength="6.55" lengthAdjust="spacingAndGlyphs" stroke="#383838" stroke-width="0.1">80</text>
<text x="161.45" y="437.30" font-size="6.4" text-anchor="middle" fill="#383838" textLength="9.82" lengthAdjust="spacingAndGlyphs" stroke="#383838" stroke-width="0.1">100</text>
<text x="19.00" y="383.89" font-size="7.2" text-anchor="middle" fill="#383838" textLength="55.60" lengthAdjust="spacingAndGlyphs" transform="rotate(-90 19.00 381.30)">Cumulative incidence</text>
<line x1="45.80" y1="343.80" x2="54.80" y2="343.80" stroke="#a4a6bc" stroke-width="1.5" />
<text x="57.50" y="345.60" font-size="5.0" fill="#383838" textLength="19.40" lengthAdjust="spacingAndGlyphs">Grade 2-4</text>
<line x1="45.80" y1="353.10" x2="54.80" y2="353.10" stroke="#9a9cb4" stroke-width="1.4" stroke-dasharray="1.6 2.1"/>
<text x="57.50" y="354.90" font-size="5.0" fill="#383838" textLength="19.40" lengthAdjust="spacingAndGlyphs">Grade 3-4</text>
<text x="104.00" y="393.70" font-size="5.0" fill="#383838" textLength="46.80" lengthAdjust="spacingAndGlyphs">CI g II-IV aGvHD= 20.1%</text>
<text x="104.00" y="403.00" font-size="5.0" fill="#383838" textLength="42.20" lengthAdjust="spacingAndGlyphs">CI g III-IV aGvHD= 9%</text>
<text x="135.30" y="425.00" font-size="5.0" fill="#383838" textLength="26.00" lengthAdjust="spacingAndGlyphs">Days since Tx</text>
<text x="6.90" y="445.28" font-size="4.4" fill="#383838" textLength="16.60" lengthAdjust="spacingAndGlyphs">N at risk:</text>
<text x="40.70" y="445.46" font-size="4.9" text-anchor="middle" fill="#4a4a4a" textLength="7.19" lengthAdjust="spacingAndGlyphs">686</text>
<text x="64.85" y="445.46" font-size="4.9" text-anchor="middle" fill="#4a4a4a" textLength="7.19" lengthAdjust="spacingAndGlyphs">617</text>
<text x="89.00" y="445.46" font-size="4.9" text-anchor="middle" fill="#4a4a4a" textLength="7.19" lengthAdjust="spacingAndGlyphs">567</text>
<text x="113.15" y="445.46" font-size="4.9" text-anchor="middle" fill="#4a4a4a" textLength="7.19" lengthAdjust="spacingAndGlyphs">539</text>
<text x="137.30" y="445.46" font-size="4.9" text-anchor="middle" fill="#4a4a4a" textLength="7.19" lengthAdjust="spacingAndGlyphs">530</text>
<text x="161.45" y="445.46" font-size="4.9" text-anchor="middle" fill="#4a4a4a" textLength="7.19" lengthAdjust="spacingAndGlyphs">497</text>
<text x="186.10" y="322.70" font-size="11.8" font-weight="bold" fill="#111" textLength="7.60" lengthAdjust="spacingAndGlyphs">H</text>
<text x="257.00" y="332.22" font-size="8.4" fill="#262626" textLength="47.20" lengthAdjust="spacingAndGlyphs">Chronic GvHD</text>
<path d="M227.40 423.00 L233.00 417.80 L236.75 416.60 L241.10 414.10 L246.75 413.45 L255.50 412.80 L266.75 411.60 L271.75 409.70 L283.00 409.45 L310.00 409.00 L339.50 408.20 L339.50 413.60 L310.00 414.40 L283.00 414.85 L271.75 415.10 L266.75 417.00 L255.50 418.20 L246.75 418.85 L241.10 419.50 L236.75 422.00 L233.00 423.20 L227.40 428.40Z" fill="#dcdce3" fill-opacity="1.0" stroke="none"/>
<path d="M231.75 422.15 L236.75 420.90 L249.25 420.30 L283.00 419.40 L339.50 419.40 L339.50 422.60 L283.00 422.60 L249.25 423.50 L236.75 424.10 L231.75 425.35Z" fill="#dcdce3" fill-opacity="1.0" stroke="none"/>
<path d="M219.00 426.20 L227.40 425.80 L233.00 420.60 L236.75 419.40 L241.10 416.90 L246.75 416.25 L255.50 415.60 L266.75 414.40 L271.75 412.50 L283.00 412.25 L310.00 411.80 L339.50 411.00" fill="none" stroke="#727488" stroke-width="1.1" stroke-linejoin="round" />
<path d="M228.00 426.20 L231.75 423.75 L236.75 422.50 L249.25 421.90 L283.00 421.00 L339.50 421.00" fill="none" stroke="#777b94" stroke-width="1.1" stroke-linejoin="round" stroke-dasharray="2.6 1.6"/>
<line x1="218.30" y1="336.80" x2="218.30" y2="427.10" stroke="#161616" stroke-width="1.5" />
<line x1="217.60" y1="426.40" x2="341.50" y2="426.40" stroke="#161616" stroke-width="1.55" />
<line x1="215.30" y1="339.70" x2="218.30" y2="339.70" stroke="#161616" stroke-width="1.35" />
<line x1="215.30" y1="361.38" x2="218.30" y2="361.38" stroke="#161616" stroke-width="1.35" />
<line x1="215.30" y1="383.05" x2="218.30" y2="383.05" stroke="#161616" stroke-width="1.35" />
<line x1="215.30" y1="404.72" x2="218.30" y2="404.72" stroke="#161616" stroke-width="1.35" />
<line x1="215.30" y1="426.40" x2="218.30" y2="426.40" stroke="#161616" stroke-width="1.35" />
<line x1="218.70" y1="426.40" x2="218.70" y2="429.40" stroke="#161616" stroke-width="1.35" />
<line x1="259.10" y1="426.40" x2="259.10" y2="429.40" stroke="#161616" stroke-width="1.35" />
<line x1="299.50" y1="426.40" x2="299.50" y2="429.40" stroke="#161616" stroke-width="1.35" />
<line x1="339.90" y1="426.40" x2="339.90" y2="429.40" stroke="#161616" stroke-width="1.35" />
<text x="213.00" y="341.34" font-size="5.4" text-anchor="end" fill="#383838" textLength="8.29" lengthAdjust="spacingAndGlyphs" stroke="#383838" stroke-width="0.12">100</text>
<text x="213.00" y="363.02" font-size="5.4" text-anchor="end" fill="#383838" textLength="5.53" lengthAdjust="spacingAndGlyphs" stroke="#383838" stroke-width="0.12">75</text>
<text x="213.00" y="384.69" font-size="5.4" text-anchor="end" fill="#383838" textLength="5.53" lengthAdjust="spacingAndGlyphs" stroke="#383838" stroke-width="0.12">50</text>
<text x="213.00" y="406.37" font-size="5.4" text-anchor="end" fill="#383838" textLength="5.53" lengthAdjust="spacingAndGlyphs" stroke="#383838" stroke-width="0.12">25</text>
<text x="213.00" y="428.04" font-size="5.4" text-anchor="end" fill="#383838" textLength="2.76" lengthAdjust="spacingAndGlyphs" stroke="#383838" stroke-width="0.12">0</text>
<text x="218.70" y="437.30" font-size="6.4" text-anchor="middle" fill="#383838" textLength="3.27" lengthAdjust="spacingAndGlyphs" stroke="#383838" stroke-width="0.1">0</text>
<text x="259.10" y="437.30" font-size="6.4" text-anchor="middle" fill="#383838" textLength="6.55" lengthAdjust="spacingAndGlyphs" stroke="#383838" stroke-width="0.1">12</text>
<text x="299.50" y="437.30" font-size="6.4" text-anchor="middle" fill="#383838" textLength="6.55" lengthAdjust="spacingAndGlyphs" stroke="#383838" stroke-width="0.1">24</text>
<text x="339.90" y="437.30" font-size="6.4" text-anchor="middle" fill="#383838" textLength="6.55" lengthAdjust="spacingAndGlyphs" stroke="#383838" stroke-width="0.1">36</text>
<text x="197.40" y="383.89" font-size="7.2" text-anchor="middle" fill="#383838" textLength="57.00" lengthAdjust="spacingAndGlyphs" transform="rotate(-90 197.40 381.30)">Cumulative incidence</text>
<line x1="224.00" y1="343.80" x2="232.70" y2="343.80" stroke="#a4a6bc" stroke-width="1.5" />
<text x="236.20" y="345.60" font-size="5.0" fill="#383838" textLength="28.20" lengthAdjust="spacingAndGlyphs">cGvHD Overall</text>
<line x1="224.00" y1="353.10" x2="232.70" y2="353.10" stroke="#9a9cb4" stroke-width="1.4" stroke-dasharray="1.6 2.1"/>
<text x="236.20" y="354.90" font-size="5.0" fill="#383838" textLength="32.80" lengthAdjust="spacingAndGlyphs">Extensive cGvHD</text>
<text x="276.90" y="396.80" font-size="5.0" fill="#383838" textLength="34.20" lengthAdjust="spacingAndGlyphs">CI cGvHD= 17.8%</text>
<text x="276.90" y="404.90" font-size="5.0" fill="#383838" textLength="51.20" lengthAdjust="spacingAndGlyphs">CI extensive cGvHD= 6.2%</text>
<text x="308.80" y="425.40" font-size="5.0" fill="#383838" textLength="30.40" lengthAdjust="spacingAndGlyphs">Months since Tx</text>
<text x="185.60" y="445.28" font-size="4.4" fill="#383838" textLength="17.40" lengthAdjust="spacingAndGlyphs">N at risk:</text>
<text x="218.70" y="445.46" font-size="4.9" text-anchor="middle" fill="#4a4a4a" textLength="7.19" lengthAdjust="spacingAndGlyphs">618</text>
<text x="259.10" y="445.46" font-size="4.9" text-anchor="middle" fill="#4a4a4a" textLength="7.19" lengthAdjust="spacingAndGlyphs">407</text>
<text x="299.50" y="445.46" font-size="4.9" text-anchor="middle" fill="#4a4a4a" textLength="7.19" lengthAdjust="spacingAndGlyphs">323</text>
<text x="339.90" y="445.46" font-size="4.9" text-anchor="middle" fill="#4a4a4a" textLength="7.19" lengthAdjust="spacingAndGlyphs">269</text>
<rect x="0.55" y="0.55" width="518.9" height="451.9" fill="none" stroke="#111" stroke-width="1.1"/>
</svg></body></html>
